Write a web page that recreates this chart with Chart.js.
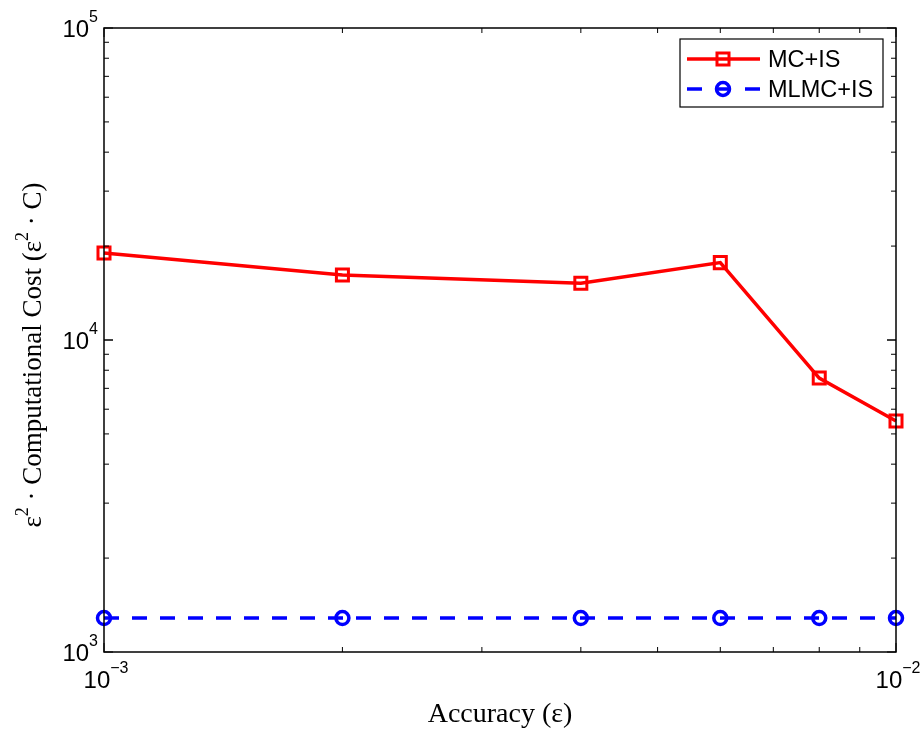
<!DOCTYPE html>
<html>
<head>
<meta charset="utf-8">
<script src="https://cdn.jsdelivr.net/npm/chart.js@4/dist/chart.umd.min.js"></script>
<style>
  html, body { margin: 0; padding: 0; background: #fff; }
  #wrap { width: 924px; height: 729px; }
</style>
</head>
<body>
<div id="wrap"><canvas id="chart" width="924" height="729"></canvas></div>
<script>
// accuracy values (epsilon)
const accuracy = [0.001, 0.002, 0.004, 0.006, 0.008, 0.01];
// eps^2 * cost
const mcIS = [19000, 16150, 15200, 17700, 7550, 5500];
const mlmcIS = [1285, 1285, 1285, 1285, 1285, 1285];
const seriesNames = ['MC+IS', 'MLMC+IS'];
const xTickExps = [-3, -2];
const yTickExps = [3, 4, 5];

function pts(ys) {
    return accuracy.map(function (x, i) { return { x: x, y: ys[i] }; });
}

const SANS = '"Liberation Sans", Arial, sans-serif';
const SERIF = '"Liberation Serif", "Times New Roman", serif';

// text pieces with superscripts: [text, isSup]
function drawRich(ctx, parts, x, y, size, supSize, lift) {
    let cx = x;
    parts.forEach(function (p) {
        ctx.font = (p[1] ? supSize : size) + 'px ' + SERIF;
        ctx.fillText(p[0], cx, p[1] ? y - lift : y);
        cx += ctx.measureText(p[0]).width;
    });
    return cx - x;
}
function richWidth(ctx, parts, size, supSize) {
    let w = 0;
    parts.forEach(function (p) {
        ctx.font = (p[1] ? supSize : size) + 'px ' + SERIF;
        w += ctx.measureText(p[0]).width;
    });
    return w;
}

// axis frame, inward ticks, power labels, titles and legend
const matlabAxes = {
    id: 'matlabAxes',
    afterDraw: function (chart) {
        const ctx = chart.ctx;
        const a = chart.chartArea;
        const sx = chart.scales.x;
        const sy = chart.scales.y;
        ctx.save();
        ctx.strokeStyle = '#000';
        ctx.lineWidth = 1.5;
        ctx.strokeRect(a.left, a.top, a.right - a.left, a.bottom - a.top);

        ctx.lineWidth = 1;
        ctx.beginPath();
        for (let e = -3; e < -2; e++) {
            for (let m = 1; m <= 10; m++) {
                const px = sx.getPixelForValue(m * Math.pow(10, e));
                const len = (m === 1 || m === 10) ? 9 : 5;
                ctx.moveTo(px, a.bottom); ctx.lineTo(px, a.bottom - len);
                ctx.moveTo(px, a.top); ctx.lineTo(px, a.top + len);
            }
        }
        for (let e = 3; e < 5; e++) {
            for (let m = 1; m <= 10; m++) {
                const py = sy.getPixelForValue(m * Math.pow(10, e));
                const len = (m === 1 || m === 10) ? 9 : 5;
                ctx.moveTo(a.left, py); ctx.lineTo(a.left + len, py);
                ctx.moveTo(a.right, py); ctx.lineTo(a.right - len, py);
            }
        }
        ctx.stroke();

        // tick labels 10^n
        ctx.fillStyle = '#000';
        ctx.textBaseline = 'alphabetic';
        ctx.textAlign = 'left';
        function power(xr, yb, exp, align) {
            ctx.font = '24px ' + SANS;
            const bw = ctx.measureText('10').width;
            const sup = String(exp).replace('-', '\u2212');
            ctx.font = '16px ' + SANS;
            const sw = ctx.measureText(sup).width;
            const x0 = align === 'right' ? xr - bw - sw : xr - (bw + sw) / 2;
            ctx.font = '24px ' + SANS;
            ctx.fillText('10', x0, yb);
            ctx.font = '16px ' + SANS;
            ctx.fillText(sup, x0 + bw, yb - 15);
        }
        yTickExps.forEach(function (e) {
            const py = sy.getPixelForValue(Math.pow(10, e));
            power(a.left - 6, py + 9, e, 'right');
        });
        xTickExps.forEach(function (e) {
            const px = sx.getPixelForValue(Math.pow(10, e));
            power(px + 2, a.bottom + 36, e, 'center');
        });

        // axis titles
        ctx.font = '28px ' + SERIF;
        ctx.textAlign = 'center';
        ctx.fillText('Accuracy (\u03b5)', (a.left + a.right) / 2, 722);
        ctx.textAlign = 'left';
        const yParts = [['\u03b5', 0], ['2', 1], [' \u00b7 Computational Cost (\u03b5', 0], ['2', 1], [' \u00b7 C)', 0]];
        const tw = richWidth(ctx, yParts, 27, 18);
        ctx.save();
        ctx.translate(41, 355);
        ctx.rotate(-Math.PI / 2);
        drawRich(ctx, yParts, -tw / 2, 0, 27, 18, 13);
        ctx.restore();

        // legend box
        const lx = 680, ly = 39, lw = 203, lh = 68;
        ctx.fillStyle = '#fff';
        ctx.fillRect(lx, ly, lw, lh);
        ctx.strokeStyle = '#000';
        ctx.lineWidth = 1.2;
        ctx.strokeRect(lx, ly, lw, lh);
        chart.data.datasets.forEach(function (ds, i) {
            const yy = ly + 20 + i * 30;
            ctx.strokeStyle = ds.borderColor;
            ctx.lineWidth = ds.borderWidth;
            ctx.beginPath();
            if (ds.borderDash) {
                ctx.moveTo(lx + 7, yy); ctx.lineTo(lx + 22, yy);
                ctx.moveTo(lx + 35, yy); ctx.lineTo(lx + 51, yy);
                ctx.moveTo(lx + 65, yy); ctx.lineTo(lx + 80, yy);
            } else {
                ctx.moveTo(lx + 7, yy); ctx.lineTo(lx + 80, yy);
            }
            ctx.stroke();
            ctx.fillStyle = 'rgba(0,0,0,0)';
            ctx.lineWidth = ds.pointBorderWidth;
            Chart.helpers.drawPoint(ctx, {
                pointStyle: ds.pointStyle,
                radius: ds.pointRadius,
                borderWidth: ds.pointBorderWidth,
                rotation: 0
            }, lx + 43, yy);
            ctx.fillStyle = '#000';
            ctx.font = '23.5px ' + SANS;
            ctx.fillText(seriesNames[i], lx + 88, yy + 8);
        });
        ctx.restore();
    }
};

new Chart(document.getElementById('chart'), {
    type: 'line',
    data: {
        datasets: [
            {
                label: seriesNames[0],
                data: pts(mcIS),
                borderColor: '#ff0000',
                backgroundColor: 'rgba(0,0,0,0)',
                borderWidth: 3.5,
                pointStyle: 'rect',
                pointRadius: 8.5,
                pointBorderWidth: 3,
                pointBorderColor: '#ff0000',
                pointBackgroundColor: 'rgba(0,0,0,0)',
                tension: 0
            },
            {
                label: seriesNames[1],
                data: pts(mlmcIS),
                borderColor: '#0000ff',
                backgroundColor: 'rgba(0,0,0,0)',
                borderWidth: 3.5,
                borderDash: [15, 13],
                pointStyle: 'circle',
                pointRadius: 6.5,
                pointBorderWidth: 3.5,
                pointBorderColor: '#0000ff',
                pointBackgroundColor: 'rgba(0,0,0,0)',
                tension: 0
            }
        ]
    },
    options: {
        responsive: false,
        animation: false,
        clip: false,
        layout: { padding: { left: 104, right: 28, top: 28, bottom: 77 } },
        plugins: { legend: { display: false }, tooltip: { enabled: false } },
        scales: {
            x: { type: 'logarithmic', min: 0.001, max: 0.01, display: false },
            y: { type: 'logarithmic', min: 1000, max: 100000, display: false }
        }
    },
    plugins: [matlabAxes]
});
</script>
</body>
</html>
